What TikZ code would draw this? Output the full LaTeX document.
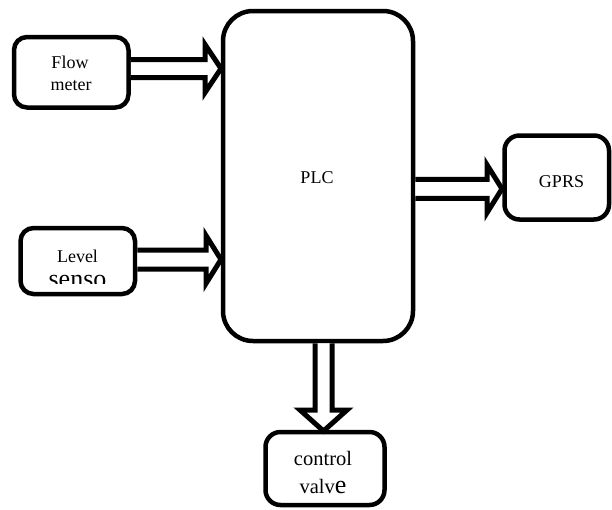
\documentclass[tikz,border=0pt]{standalone}
\usepackage{fontspec}
\setmainfont{Liberation Serif}
\usetikzlibrary{calc}
\tikzset{
  box/.style={draw, line width=4.5pt, rounded corners=#1, inner sep=0pt},
  box/.default=13pt,
  lbl/.style={inner sep=0pt, anchor=base, font=\fontsize{18}{20}\selectfont},
  dblarrow/.style={draw, line width=5pt, line join=miter, miter limit=10, fill=white}
}
\begin{document}
\begin{tikzpicture}[x=1pt, y=-1pt]
\useasboundingbox (0,0) rectangle (612,509);
% boxes
\node[box=30pt, minimum width=190pt, minimum height=330pt] (plc) at (318,176) {};
\node[box, minimum width=114.5pt, minimum height=70.5pt] (fm) at (71.25,72.25) {};
\node[box, minimum width=114.5pt, minimum height=66pt] (ls) at (77.75,261) {};
\node[box=15pt, minimum width=104.5pt, minimum height=84pt] (gprs) at (556.75,177.5) {};
\node[box=15pt, minimum width=119pt, minimum height=73pt] (cv) at (325,468.5) {};
% labels
\node[lbl] (plct) at (317,183) {PLC};
\node[lbl] (fmt1) at (70,68) {Flow};
\node[lbl] (fmt2) at (71,90) {meter};
\node[lbl] (lst1) at (77.5,262) {Level};
\begin{scope}
  \clip (30,262) rectangle (130,283);
  \node[lbl, font=\fontsize{26}{28}\selectfont] (lst2) at (77.5,287) {senso};
\end{scope}
\node[lbl] (gprst) at (561.5,187) {GPRS};
\node[lbl, font=\fontsize{20.5}{22}\selectfont] (cvt1) at (323,465) {control};
\node[lbl, font=\fontsize{20.5}{22}\selectfont] (cvt2) at (323,493) {valv{\fontsize{26}{28}\selectfont e}};
% arrow tips
\coordinate (t1) at (221,68.5);
\coordinate (t2) at (221,259.5);
\coordinate (t3) at (502,188.8);
\coordinate (t4) at (323.5,431);
% flow meter -> PLC
\draw[dblarrow] ($(fm.east |- t1)+(0,-9)$) -- ($(t1)+(-16,-9)$) -- ($(t1)+(-16,-24)$) -- (t1)
  -- ($(t1)+(-16,24)$) -- ($(t1)+(-16,9)$) -- ($(fm.east |- t1)+(0,9)$);
% level sensor -> PLC
\draw[dblarrow] ($(ls.east |- t2)+(0,-9.5)$) -- ($(t2)+(-15,-9.5)$) -- ($(t2)+(-15,-24)$) -- (t2)
  -- ($(t2)+(-15,24)$) -- ($(t2)+(-15,9.5)$) -- ($(ls.east |- t2)+(0,9.5)$);
% PLC -> GPRS
\draw[dblarrow] ($(plc.east |- t3)+(0,-9.5)$) -- ($(t3)+(-15,-9.5)$) -- ($(t3)+(-15,-24)$) -- (t3)
  -- ($(t3)+(-15,24)$) -- ($(t3)+(-15,9.5)$) -- ($(plc.east |- t3)+(0,9.5)$);
% PLC -> control valve
\draw[dblarrow] ($(plc.south -| t4)+(-8.5,0)$) -- ($(t4)+(-8.5,-21)$) -- ($(t4)+(-23.5,-21)$) -- (t4)
  -- ($(t4)+(23.5,-21)$) -- ($(t4)+(8.5,-21)$) -- ($(plc.south -| t4)+(8.5,0)$);
\end{tikzpicture}
\end{document}
